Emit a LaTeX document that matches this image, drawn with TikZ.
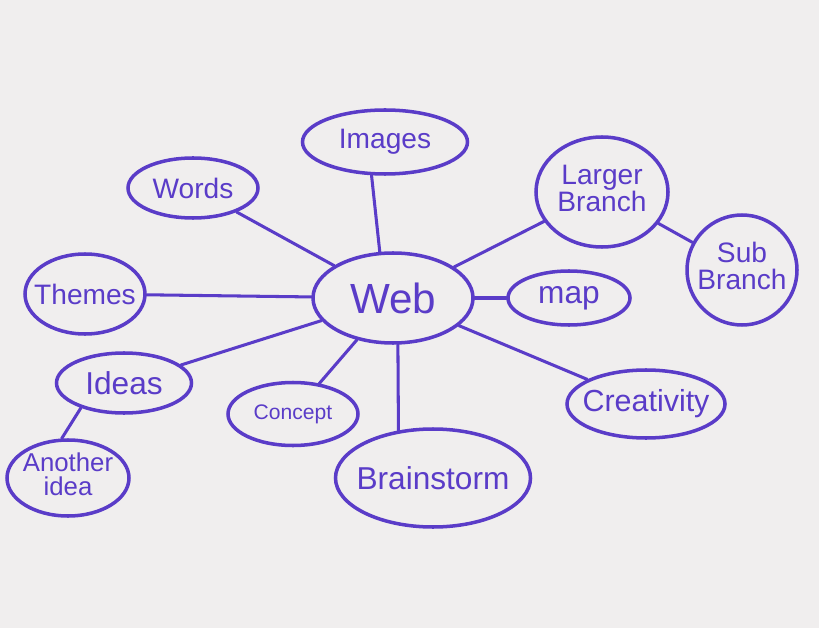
\documentclass[tikz,border=0pt]{standalone}
\usepackage{fontspec}
\setmainfont{Liberation Sans}
\usetikzlibrary{shapes.geometric}
\definecolor{ink}{HTML}{5A3CC8}
\definecolor{paper}{HTML}{F0EEEE}
\newcommand\zb[1]{\makebox[0pt]{#1}}
\newcommand\zbb[2]{\makebox[0pt]{\begin{tabular}{@{}c@{}}#1\\[-3pt]#2\end{tabular}}}
\begin{document}
\begin{tikzpicture}[x=0.03cm,y=-0.03cm,
  bub/.style={ellipse,draw=ink,line width=3pt,inner sep=0pt,text=ink,font=\fontsize{24}{26}\selectfont},
  link/.style={draw=ink,line width=2.6pt,line cap=round}]
\fill[paper] (0,0) rectangle (819,628);
\useasboundingbox (0,0) rectangle (819,628);
\node[bub,minimum width=160*0.03cm,minimum height=90*0.03cm,font=\fontsize{36}{38}\selectfont] (web) at (393,298) {\zb{Web}};
\node[bub,minimum width=165*0.03cm,minimum height=64*0.03cm] (images) at (385,142) {\zb{Images}};
\node[bub,minimum width=130*0.03cm,minimum height=60*0.03cm] (words) at (193,188) {\zb{Words}};
\node[bub,minimum width=132*0.03cm,minimum height=110*0.03cm] (larger) at (602,192) {\zbb{Larger}{Branch}};
\node[bub,minimum width=110*0.03cm,minimum height=110*0.03cm] (sub) at (742,270) {\zbb{Sub}{Branch}};
\node[bub,minimum width=120*0.03cm,minimum height=80*0.03cm] (themes) at (85,294) {\zb{Themes}};
\node[bub,minimum width=122*0.03cm,minimum height=54*0.03cm,font=\fontsize{27}{28}\selectfont] (map) at (569,298) {\zb{map}};
\node[bub,minimum width=135*0.03cm,minimum height=60*0.03cm,font=\fontsize{27}{28}\selectfont] (ideas) at (124,383) {\zb{Ideas}};
\node[bub,minimum width=158*0.03cm,minimum height=68*0.03cm,font=\fontsize{26}{28}\selectfont] (creat) at (646,404) {\zb{Creativity}};
\node[bub,minimum width=130*0.03cm,minimum height=63*0.03cm,font=\fontsize{18}{20}\selectfont] (concept) at (293,414) {\zb{Concept}};
\node[bub,minimum width=195*0.03cm,minimum height=98*0.03cm,font=\fontsize{27}{28}\selectfont] (brain) at (433,478) {\zb{Brainstorm}};
\node[bub,minimum width=122*0.03cm,minimum height=76*0.03cm,font=\fontsize{22}{24}\selectfont] (another) at (68,478) {\zbb{Another}{idea}};
\draw[link] (web.106) -- (images.-112);
\draw[link] (web) -- (words);
\draw[link] (web) -- (larger);
\draw[link] (larger) -- (sub);
\draw[link] (web) -- (themes);
\draw[link] (web) -- (map);
\draw[link] (web) -- (ideas);
\draw[link] (web) -- (concept);
\draw[link] (web.-84) -- (brain.126);
\draw[link] (web) -- (creat);
\draw[link] (ideas.210) -- (another.99);
\end{tikzpicture}
\end{document}
